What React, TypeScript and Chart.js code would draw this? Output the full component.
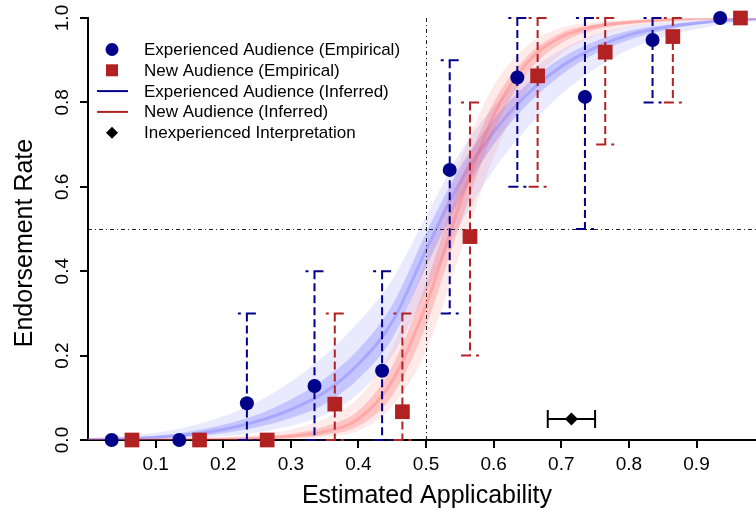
import React, { useEffect, useRef } from 'react';
import { Chart, registerables } from 'chart.js';

Chart.register(...registerables);

const FONT = '"Liberation Sans", Arial, Helvetica, sans-serif';
const BLUE = '#00008B';
const RED = '#B22222';

// Empirical points
const blueX = [0.035, 0.135, 0.235, 0.335, 0.435, 0.535, 0.635, 0.735, 0.835, 0.935];
const blueY = [0, 0, 0.087, 0.128, 0.164, 0.64, 0.859, 0.813, 0.948, 1.0];
const blueLo = [null, null, 0, 0, 0, 0.3, 0.6, 0.5, 0.8, null];
const blueHi = [null, null, 0.3, 0.4, 0.4, 0.9, 1.0, 1.0, 1.0, null];

const redX = [0.065, 0.165, 0.265, 0.365, 0.465, 0.565, 0.665, 0.765, 0.865, 0.965];
const redY = [0, 0, 0, 0.085, 0.067, 0.482, 0.863, 0.919, 0.956, 1.0];
const redLo = [null, null, null, 0, 0, 0.2, 0.6, 0.7, 0.8, null];
const redHi = [null, null, null, 0.3, 0.3, 0.8, 1.0, 1.0, 1.0, null];

// Inexperienced interpretation
const interpX = [0.715];
const interpY = [0.05];
const interpLo = [0.68];
const interpHi = [0.75];

// Reference lines
const refX = 0.5;
const refY = 0.5;

// Ticks
const xTicks = [0.1, 0.2, 0.3, 0.4, 0.5, 0.6, 0.7, 0.8, 0.9];
const yTicks = [0, 0.2, 0.4, 0.6, 0.8, 1.0];
const yTickLabels = ['0.0', '0.2', '0.4', '0.6', '0.8', '1.0'];

// Inferred curve bands
const bandX = [0, 0.05, 0.1, 0.15, 0.2, 0.25, 0.3, 0.35, 0.4, 0.45, 0.5, 0.55, 0.6, 0.65, 0.7, 0.75, 0.8, 0.85, 0.9, 0.95, 1.0];
const blueOuterHi = [0.004, 0.009, 0.017, 0.032, 0.056, 0.09, 0.138, 0.2, 0.28, 0.38, 0.53, 0.68, 0.79, 0.87, 0.925, 0.96, 0.98, 0.99, 0.995, 0.998, 0.999];
const blueInnerHi = [0.002, 0.005, 0.01, 0.02, 0.036, 0.06, 0.096, 0.145, 0.215, 0.32, 0.49, 0.645, 0.76, 0.845, 0.905, 0.945, 0.97, 0.983, 0.991, 0.996, 0.998];
const blueMid = [0.001, 0.003, 0.006, 0.013, 0.025, 0.044, 0.072, 0.113, 0.18, 0.28, 0.45, 0.61, 0.73, 0.82, 0.885, 0.93, 0.96, 0.977, 0.988, 0.995, 0.998];
const blueInnerLo = [0.0005, 0.0015, 0.0035, 0.008, 0.016, 0.03, 0.052, 0.085, 0.145, 0.24, 0.41, 0.57, 0.7, 0.795, 0.865, 0.915, 0.948, 0.97, 0.984, 0.992, 0.996];
const blueOuterLo = [0.0002, 0.0006, 0.0015, 0.004, 0.009, 0.018, 0.034, 0.06, 0.11, 0.2, 0.35, 0.51, 0.64, 0.74, 0.82, 0.88, 0.925, 0.955, 0.974, 0.987, 0.994];

const redOuterHi = [0.0005, 0.001, 0.002, 0.004, 0.007, 0.013, 0.025, 0.05, 0.1, 0.22, 0.43, 0.66, 0.84, 0.935, 0.977, 0.99, 0.996, 0.998, 0.999, 1, 1];
const redInnerHi = [0.0002, 0.0005, 0.001, 0.002, 0.004, 0.007, 0.015, 0.032, 0.07, 0.175, 0.37, 0.61, 0.8, 0.91, 0.965, 0.985, 0.993, 0.997, 0.999, 1, 1];
const redMid = [0, 0.0002, 0.0005, 0.001, 0.002, 0.004, 0.009, 0.02, 0.05, 0.14, 0.32, 0.56, 0.77, 0.895, 0.955, 0.98, 0.99, 0.995, 0.998, 0.999, 1];
const redInnerLo = [0, 0.0001, 0.0002, 0.0005, 0.001, 0.002, 0.005, 0.012, 0.033, 0.105, 0.27, 0.51, 0.73, 0.87, 0.94, 0.972, 0.986, 0.993, 0.997, 0.999, 1];
const redOuterLo = [0, 0, 0.0001, 0.0002, 0.0005, 0.001, 0.003, 0.007, 0.022, 0.08, 0.21, 0.44, 0.67, 0.83, 0.915, 0.957, 0.978, 0.99, 0.995, 0.998, 0.999];

const legendLabels = [
  'Experienced Audience (Empirical)',
  'New Audience (Empirical)',
  'Experienced Audience (Inferred)',
  'New Audience (Inferred)',
  'Inexperienced Interpretation',
];

const xTitle = 'Estimated Applicability';
const yTitle = 'Endorsement Rate';

const pts = (xs: number[], ys: number[]) => xs.map((x, i) => ({ x, y: ys[i] }));

function bandSet(arrs: number[][], rgb: string, order: number) {
  const fills = [`rgba(${rgb},0.13)`, `rgba(${rgb},0.36)`, `rgba(${rgb},0.36)`, `rgba(${rgb},0.13)`];
  return arrs.map((a, i) => ({
    data: pts(bandX, a),
    showLine: true,
    borderWidth: i === 2 ? 3 : 0,
    borderColor: i === 2 ? `rgba(${rgb},0.3)` : 'rgba(0,0,0,0)',
    pointRadius: 0,
    cubicInterpolationMode: 'monotone',
    fill: i < arrs.length - 1 ? '+1' : false,
    backgroundColor: i < arrs.length - 1 ? fills[i] : 'rgba(0,0,0,0)',
    order,
  }));
}

function drawVBars(ctx: any, xs: any, ys: any, px: number[], lo: any[], hi: any[], color: string) {
  ctx.strokeStyle = color;
  ctx.lineWidth = 2;
  for (let i = 0; i < px.length; i++) {
    if (lo[i] === null || hi[i] === null) continue;
    const x = xs.getPixelForValue(px[i]);
    const yT = ys.getPixelForValue(hi[i]);
    const yB = ys.getPixelForValue(lo[i]);
    ctx.setLineDash([8, 4]);
    ctx.beginPath();
    ctx.moveTo(x, yT);
    ctx.lineTo(x, yB);
    ctx.stroke();
    ctx.setLineDash([10, 5]);
    ctx.beginPath();
    ctx.moveTo(x + 9, yT);
    ctx.lineTo(x - 9, yT);
    ctx.stroke();
    ctx.beginPath();
    ctx.moveTo(x - 9, yB);
    ctx.lineTo(x + 9, yB);
    ctx.stroke();
  }
}

const overlayPlugin = {
  id: 'overlay',
  beforeDatasetDraw(chart: any, args: any) {
    if (args.index !== 2) return;
    const ctx = chart.ctx;
    const xs = chart.scales.x;
    const ys = chart.scales.y;
    const ca = chart.chartArea;
    ctx.save();
    // reference lines
    ctx.strokeStyle = '#222';
    ctx.lineWidth = 1;
    ctx.setLineDash([4, 3, 1, 3]);
    ctx.beginPath();
    const rx = Math.round(xs.getPixelForValue(refX)) + 0.5;
    ctx.moveTo(rx, ys.getPixelForValue(1));
    ctx.lineTo(rx, ys.getPixelForValue(0));
    ctx.stroke();
    ctx.beginPath();
    const ry = Math.round(ys.getPixelForValue(refY)) + 0.5;
    ctx.moveTo(ca.left, ry);
    ctx.lineTo(ca.right, ry);
    ctx.stroke();
    // error bars
    drawVBars(ctx, xs, ys, blueX, blueLo, blueHi, BLUE);
    drawVBars(ctx, xs, ys, redX, redLo, redHi, RED);
    // horizontal error bar for interpretation
    ctx.setLineDash([]);
    ctx.strokeStyle = '#000';
    ctx.lineWidth = 2;
    for (let i = 0; i < interpX.length; i++) {
      const y = ys.getPixelForValue(interpY[i]);
      const x0 = xs.getPixelForValue(interpLo[i]);
      const x1 = xs.getPixelForValue(interpHi[i]);
      ctx.beginPath();
      ctx.moveTo(x0, y);
      ctx.lineTo(x1, y);
      ctx.moveTo(x0, y - 9);
      ctx.lineTo(x0, y + 9);
      ctx.moveTo(x1, y - 9);
      ctx.lineTo(x1, y + 9);
      ctx.stroke();
    }
    ctx.restore();
  },
  afterDraw(chart: any) {
    const ctx = chart.ctx;
    const ys = chart.scales.y;
    ctx.save();
    ctx.fillStyle = '#000';
    // y tick labels (rotated)
    ctx.font = `19px ${FONT}`;
    ctx.textAlign = 'center';
    ctx.textBaseline = 'alphabetic';
    yTicks.forEach((v, i) => {
      const y = ys.getPixelForValue(v);
      ctx.save();
      ctx.translate(68, y);
      ctx.rotate(-Math.PI / 2);
      ctx.fillText(yTickLabels[i], 0, 0);
      ctx.restore();
    });
    // axis titles
    ctx.font = `25px ${FONT}`;
    ctx.save();
    ctx.translate(32, 243);
    ctx.rotate(-Math.PI / 2);
    ctx.fillText(yTitle, 0, 0);
    ctx.restore();
    ctx.fillText(xTitle, 427, 503);
    // legend
    const sx = 112;
    const step = 20.8;
    const cy0 = 49.5;
    ctx.fillStyle = BLUE;
    ctx.beginPath();
    ctx.arc(sx, cy0, 6.5, 0, Math.PI * 2);
    ctx.fill();
    ctx.fillStyle = RED;
    ctx.fillRect(sx - 6, cy0 + step - 6, 12, 12);
    ctx.lineWidth = 2;
    ctx.strokeStyle = BLUE;
    ctx.beginPath();
    ctx.moveTo(97, cy0 + 2 * step);
    ctx.lineTo(128, cy0 + 2 * step);
    ctx.stroke();
    ctx.strokeStyle = RED;
    ctx.beginPath();
    ctx.moveTo(97, cy0 + 3 * step);
    ctx.lineTo(128, cy0 + 3 * step);
    ctx.stroke();
    ctx.fillStyle = '#000';
    const dy = cy0 + 4 * step;
    ctx.beginPath();
    ctx.moveTo(sx - 6, dy);
    ctx.lineTo(sx, dy - 6);
    ctx.lineTo(sx + 6, dy);
    ctx.lineTo(sx, dy + 6);
    ctx.closePath();
    ctx.fill();
    ctx.font = `17px ${FONT}`;
    ctx.textAlign = 'left';
    ctx.textBaseline = 'alphabetic';
    legendLabels.forEach((t, i) => {
      ctx.fillText(t, 144, 55 + i * step);
    });
    ctx.restore();
  },
};

export default function App() {
  const ref = useRef<HTMLCanvasElement>(null);
  useEffect(() => {
    document.body.style.margin = '0';
    const datasets: any[] = [
      {
        data: pts(blueX, blueY),
        pointStyle: 'circle',
        pointRadius: 7,
        backgroundColor: BLUE,
        borderColor: BLUE,
        borderWidth: 0,
        showLine: false,
        clip: false,
        order: 0,
      },
      {
        data: pts(redX, redY),
        pointStyle: 'rect',
        pointRadius: 10.4,
        backgroundColor: RED,
        borderColor: RED,
        borderWidth: 0,
        showLine: false,
        clip: false,
        order: 0,
      },
      {
        data: pts(interpX, interpY),
        pointStyle: 'rectRot',
        pointRadius: 6.5,
        backgroundColor: '#000',
        borderColor: '#000',
        borderWidth: 0,
        showLine: false,
        clip: false,
        order: 0,
      },
      ...bandSet([redOuterHi, redInnerHi, redMid, redInnerLo, redOuterLo], '255,95,95', 1),
      ...bandSet([blueOuterHi, blueInnerHi, blueMid, blueInnerLo, blueOuterLo], '95,95,255', 2),
    ];
    const axisCommon = {
      grid: { display: true, drawOnChartArea: false, drawTicks: true, tickLength: 8, color: '#000', lineWidth: 2 },
      border: { display: true, color: '#000', width: 2 },
    };
    const chart = new Chart(ref.current as HTMLCanvasElement, {
      type: 'scatter',
      data: { datasets },
      options: {
        responsive: false,
        animation: false,
        events: [],
        layout: { autoPadding: false, padding: { top: 18, right: 0, left: 0, bottom: 0 } },
        plugins: { legend: { display: false }, tooltip: { enabled: false } },
        scales: {
          x: {
            type: 'linear',
            min: 0,
            max: 0.988,
            ...axisCommon,
            afterBuildTicks: (s: any) => {
              s.ticks = xTicks.map((v) => ({ value: v }));
            },
            afterFit: (s: any) => {
              s.height = 70;
              s.paddingLeft = 0;
              s.paddingRight = 0;
            },
            ticks: {
              color: '#000',
              font: { family: FONT, size: 19 },
              padding: 5,
              maxRotation: 0,
              minRotation: 0,
              callback: (v: any) => Number(v).toFixed(1),
            },
          },
          y: {
            type: 'linear',
            min: 0,
            max: 1,
            ...axisCommon,
            afterBuildTicks: (s: any) => {
              s.ticks = yTicks.map((v) => ({ value: v }));
            },
            afterFit: (s: any) => {
              s.width = 88;
              s.paddingTop = 0;
              s.paddingBottom = 0;
            },
            ticks: { display: false },
          },
        },
      } as any,
      plugins: [overlayPlugin],
    });
    return () => chart.destroy();
  }, []);
  return (
    <div style={{ width: 756, height: 510 }}>
      <canvas ref={ref} width={756} height={510} style={{ display: 'block' }} />
    </div>
  );
}
